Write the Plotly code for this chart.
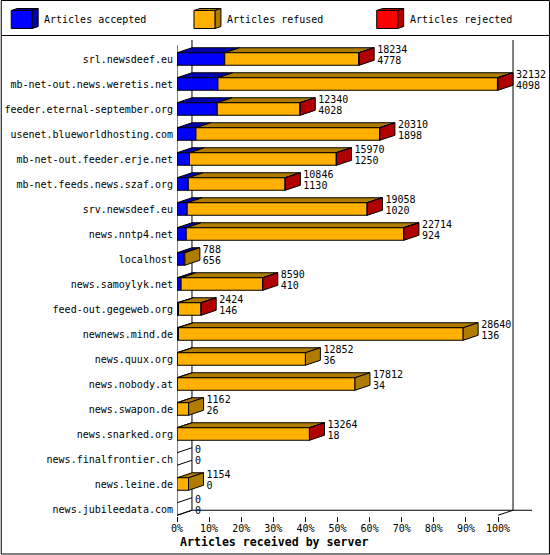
import plotly.graph_objects as go

# Values (rejected is estimated, only slivers are visible)
servers = ['srl.newsdeef.eu', 'mb-net-out.news.weretis.net', 'feeder.eternal-september.org',
           'usenet.blueworldhosting.com', 'mb-net-out.feeder.erje.net', 'mb-net.feeds.news.szaf.org',
           'srv.newsdeef.eu', 'news.nntp4.net', 'localhost', 'news.samoylyk.net',
           'feed-out.gegeweb.org', 'newnews.mind.de', 'news.quux.org', 'news.nobody.at',
           'news.swapon.de', 'news.snarked.org', 'news.finalfrontier.ch', 'news.leine.de',
           'news.jubileedata.com']
total = [18234, 32132, 12340, 20310, 15970, 10846, 19058, 22714, 788, 8590,
         2424, 28640, 12852, 17812, 1162, 13264, 0, 1154, 0]
accepted = [4778, 4098, 4028, 1898, 1250, 1130, 1020, 924, 656, 410,
            146, 136, 36, 34, 26, 18, 0, 0, 0]
rejected = [40, 60, 30, 40, 30, 30, 30, 40, 0, 20, 10, 0, 0, 0, 0, 10, 0, 0, 0]
x_ticks = [0, 10, 20, 30, 40, 50, 60, 70, 80, 90, 100]

W, H = 550, 555
LEFT, RIGHT, TOP, BOTTOM = 176.5, 532, 40, 516
PX_PER_PCT = 3.215
ROW_H = 25
ROW0 = 59

BLUE, BLUE_D = '#0000ff', '#0000b0'
ORANGE, ORANGE_D = '#ffb000', '#b07c00'
RED, RED_D = '#ff0000', '#b00000'
FONT = 'DejaVu Sans Mono'

DX = 15 / PX_PER_PCT     # depth of the 3d effect in axis units
DY = 5 / ROW_H
HALF = 6.25 / ROW_H
MAX_TOTAL = max(total)
FLOOR = 18 + HALF


def px(v):
    return (v - LEFT) / (RIGHT - LEFT)


def py(v):
    return (BOTTOM - v) / (BOTTOM - TOP)


fig = go.Figure()


def poly(xs, ys, fill=None):
    fig.add_trace(go.Scatter(
        x=xs, y=ys, mode='lines', line=dict(color='black', width=1),
        fill='toself' if fill else None, fillcolor=fill,
        hoverinfo='skip', showlegend=False, cliponaxis=False))


# walls of the box
poly([0, 0], [-0.56, FLOOR + 0.18])
poly([DX, DX], [-0.76, FLOOR - DY])
poly([100 + DX, 100 + DX], [-0.76, FLOOR - DY])
poly([DX, 110.6], [FLOOR - DY, FLOOR - DY])
poly([-DX, DX], [FLOOR + DY, FLOOR - DY])
poly([100, 100 + DX], [FLOOR, FLOOR - DY])

# bars
for i, name in enumerate(servers):
    a = accepted[i] / MAX_TOTAL * 100
    r = rejected[i] / MAX_TOTAL * 100
    end = total[i] / MAX_TOTAL * 100
    t, b = i - HALF, i + HALF
    segs = [(0, a, BLUE, BLUE_D), (a, end - r, ORANGE, ORANGE_D), (end - r, end, RED, RED_D)]
    segs = [s for s in segs if s[1] > s[0]]
    if not segs:
        poly([0, DX], [t, t - DY])
        poly([0, DX], [b, b - DY])
    for x0, x1, c, d in segs:
        poly([x0, x0 + DX, x1 + DX, x1, x0], [t, t - DY, t - DY, t, t], d)
        poly([x0, x1, x1, x0, x0], [t, t, b, b, t], c)
    if segs:
        d = segs[-1][3]
        poly([end, end + DX, end + DX, end, end], [t, t - DY, b - DY, b, t], d)

# value labels next to each bar
label_x = [v / MAX_TOTAL * 100 + DX + 3 / PX_PER_PCT for v in total]
fig.add_trace(go.Scatter(
    x=label_x, y=[i - 8.5 / ROW_H for i in range(len(servers))], mode='text',
    text=[str(v) for v in total], textposition='middle right',
    textfont=dict(family=FONT, size=10, color='black'),
    hoverinfo='skip', showlegend=False, cliponaxis=False))
fig.add_trace(go.Scatter(
    x=label_x, y=[i + 2.5 / ROW_H for i in range(len(servers))], mode='text',
    text=[str(v) for v in accepted], textposition='middle right',
    textfont=dict(family=FONT, size=10, color='black'),
    hoverinfo='skip', showlegend=False, cliponaxis=False))

# frame and legend strip
shapes = [
    dict(type='rect', xref='paper', yref='paper', x0=px(0.5), x1=px(549.5), y0=py(0.5), y1=py(554),
         line=dict(color='black', width=1)),
    dict(type='line', xref='paper', yref='paper', x0=px(0.5), x1=px(549.5), y0=py(35.5), y1=py(35.5),
         line=dict(color='black', width=1)),
]
annotations = []
for lx, c, d, label in [(10.5, BLUE, BLUE_D, 'Articles accepted'),
                        (193.5, ORANGE, ORANGE_D, 'Articles refused'),
                        (376.5, RED, RED_D, 'Articles rejected')]:
    rx = lx + 21
    top_path = f'M{px(lx)},{py(10.5)} L{px(lx + 6)},{py(8.5)} L{px(rx + 6)},{py(8.5)} L{px(rx)},{py(10.5)} Z'
    side_path = f'M{px(rx)},{py(10.5)} L{px(rx + 6)},{py(8.5)} L{px(rx + 6)},{py(26.5)} L{px(rx)},{py(28.5)} Z'
    for path, color in [(top_path, d), (side_path, d)]:
        shapes.append(dict(type='path', xref='paper', yref='paper', path=path, fillcolor=color,
                           line=dict(color='black', width=1)))
    shapes.append(dict(type='rect', xref='paper', yref='paper', x0=px(lx), x1=px(rx), y0=py(10.5), y1=py(28.5),
                       fillcolor=c, line=dict(color='black', width=1)))
    annotations.append(dict(xref='paper', yref='paper', x=px(lx + 31), y=py(20), text=label,
                            showarrow=False, xanchor='left', yanchor='middle',
                            font=dict(family=FONT, size=10, color='black')))

annotations.append(dict(xref='paper', yref='paper', x=px(273.5), y=py(541.5),
                        text='<b>Articles received by server</b>', showarrow=False,
                        xanchor='center', yanchor='middle',
                        font=dict(family=FONT, size=11.6, color='black')))

fig.update_layout(
    width=W, height=H, autosize=False,
    margin=dict(l=LEFT, r=W - RIGHT, t=TOP, b=H - BOTTOM, pad=0),
    paper_bgcolor='white', plot_bgcolor='white',
    showlegend=False, shapes=shapes, annotations=annotations,
)
fig.update_xaxes(
    range=[0, (RIGHT - LEFT) / PX_PER_PCT], tickvals=x_ticks, ticktext=[f'{v}%' for v in x_ticks],
    ticks='outside', ticklen=5, tickwidth=1, tickcolor='black', showgrid=False, zeroline=False,
    showline=False, tickangle=0, automargin=False, ticklabelstandoff=-2,
    tickfont=dict(family=FONT, size=10, color='black'),
)
fig.update_yaxes(
    range=[(BOTTOM - ROW0) / ROW_H, (TOP - ROW0) / ROW_H],
    tickvals=list(range(len(servers))), ticktext=servers, ticks='', showgrid=False, zeroline=False,
    showline=False, automargin=False, ticklabelstandoff=3,
    tickfont=dict(family=FONT, size=10, color='black'),
)

fig.write_html("out.html", config=dict(displayModeBar=False), post_script="document.body.style.margin='0';")
